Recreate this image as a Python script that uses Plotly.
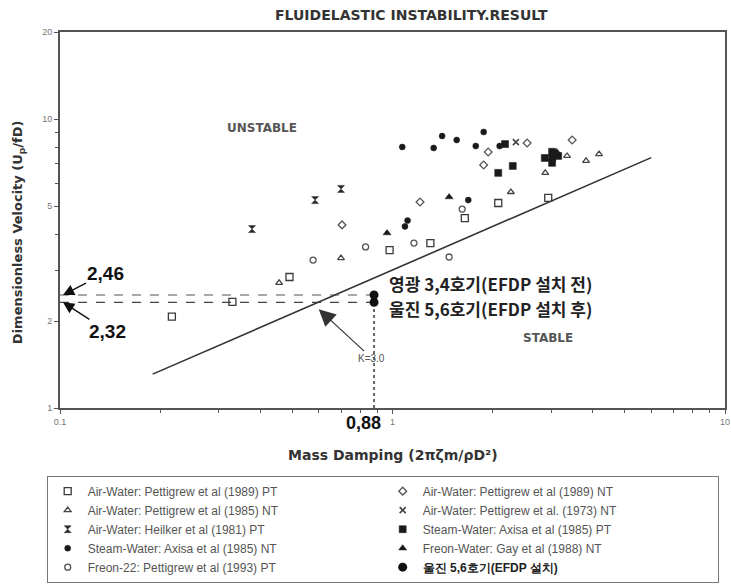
import plotly.graph_objects as go

# ---------------- data ----------------
pt89_x = [0.217, 0.33, 0.49, 0.98, 1.30, 1.65, 2.08, 2.94]
pt89_y = [2.07, 2.33, 2.84, 3.52, 3.72, 4.54, 5.12, 5.33]

nt89_x = [0.705, 1.21, 1.94, 1.88, 2.54, 3.47]
nt89_y = [4.30, 5.16, 7.69, 6.93, 8.26, 8.46]

nt85_x = [0.456, 0.70, 2.27, 2.88, 3.35, 3.82, 4.18]
nt85_y = [2.71, 3.30, 5.59, 6.51, 7.45, 7.16, 7.56]

nt73_x = [2.35]
nt73_y = [8.32]

heilker_x = [0.378, 0.585, 0.70]
heilker_y = [4.16, 5.24, 5.73]

axpt_x = [2.08, 2.30, 2.18, 2.87, 3.02, 3.15, 3.02, 3.02]
axpt_y = [6.51, 6.88, 8.19, 7.33, 7.33, 7.45, 7.70, 7.05]

axnt_x = [1.07, 1.33, 1.41, 1.56, 1.78, 1.88, 1.69, 1.09, 1.11, 2.10]
axnt_y = [8.00, 7.94, 8.73, 8.46, 8.06, 9.02, 5.24, 4.25, 4.45, 8.06]

gay_x = [0.963, 1.48, 3.12]
gay_y = [4.03, 5.37, 7.69]

freon_x = [0.577, 0.83, 1.16, 1.48, 1.62]
freon_y = [3.25, 3.61, 3.72, 3.33, 4.88]

plant_x = [0.88, 0.88]
plant_y = [2.46, 2.32]
plant_names = ["영광 3,4호기(EFDP 설치 전)", "울진 5,6호기(EFDP 설치 후)"]

k_line_x = [0.19, 6.0]
k_line_y = [1.31, 7.35]

x_ticks = [0.1, 1, 10]
x_ticktext = ["0.1", "1", "10"]
y_ticks = [1, 2, 5, 10, 20]
y_ticktext = ["1", "2", "5", "10", "20"]
x_minor = [0.2, 0.3, 0.4, 0.5, 0.6, 0.7, 0.8, 0.9, 2, 3, 4, 5, 6, 7, 8, 9]
y_minor = [3, 4, 6, 7, 8, 9]

legend_names = [
    "Air-Water: Pettigrew et al (1989) PT",
    "Air-Water: Pettigrew et al (1989) NT",
    "Air-Water: Pettigrew et al (1985) NT",
    "Air-Water: Pettigrew et al. (1973) NT",
    "Air-Water: Heilker et al (1981) PT",
    "Steam-Water: Axisa et al (1985) PT",
    "Steam-Water: Axisa et al (1985) NT",
    "Freon-Water: Gay et al (1988) NT",
    "Freon-22: Pettigrew et al (1993) PT",
    "울진 5,6호기(EFDP 설치)",
]

DARK = "#2a2a2a"
WIDE = "DejaVu Sans, Liberation Sans, sans-serif"
fig = go.Figure()

# reference lines
fig.add_trace(go.Scatter(x=[0.1, plant_x[0]], y=[plant_y[0], plant_y[0]], mode="lines",
                         line=dict(color="#a8a8a8", width=2.2, dash="dash"), showlegend=False))
fig.add_trace(go.Scatter(x=[0.1, plant_x[1]], y=[plant_y[1], plant_y[1]], mode="lines",
                         line=dict(color="#444", width=1.3, dash="dash"), showlegend=False))
fig.add_trace(go.Scatter(x=[plant_x[1], plant_x[1]], y=[1, plant_y[1]], mode="lines",
                         line=dict(color="#444", width=1.6, dash="dot"), showlegend=False))
fig.add_trace(go.Scatter(x=k_line_x, y=k_line_y, mode="lines",
                         line=dict(color="#333", width=1.6), showlegend=False))


def add(xs, ys, name, symbol, size=6, lw=1.3, color=DARK):
    fig.add_trace(go.Scatter(
        x=xs, y=ys, mode="markers", name=name,
        marker=dict(symbol=symbol, size=size, color=color,
                    line=dict(color=color, width=lw))))


add(pt89_x, pt89_y, legend_names[0], "square-open", 7, color="#3a3a3a")
add(nt89_x, nt89_y, legend_names[1], "diamond-open", 6, color="#555")
add(nt85_x, nt85_y, legend_names[2], "triangle-up-open", 6, color="#444")
add(nt73_x, nt73_y, legend_names[3], "x-thin-open", 6, lw=1.6, color="#444")
add(heilker_x, heilker_y, legend_names[4], "hourglass", 7, lw=0.5)
add(axpt_x, axpt_y, legend_names[5], "square", 7, lw=0.5, color="#1a1a1a")
add(axnt_x, axnt_y, legend_names[6], "circle", 6, lw=0.5, color="#1a1a1a")
add(gay_x, gay_y, legend_names[7], "triangle-up", 7, lw=0.5, color="#1a1a1a")
add(freon_x, freon_y, legend_names[8], "circle-open", 6, color="#555")

fig.add_trace(go.Scatter(x=[plant_x[0]], y=[plant_y[0]], mode="markers", showlegend=False,
                         marker=dict(symbol="circle", size=9, color="#111")))
fig.add_trace(go.Scatter(x=[plant_x[1]], y=[plant_y[1]], mode="markers",
                         name="<b><span style='font-size:12px;color:#222'>" + legend_names[9] + "</span></b>",
                         marker=dict(symbol="circle", size=9, color="#111")))

ann = [
    dict(text="<b>FLUIDELASTIC INSTABILITY.RESULT</b>", xref="paper", yref="paper",
         x=0.528, y=1.045, yanchor="middle", showarrow=False,
         font=dict(size=14, color="#333", family=WIDE)),
    dict(text="<b>Mass Damping (2πζm/ρD²)</b>", xref="paper", yref="paper",
         x=0.5, y=-0.125, yanchor="middle", showarrow=False,
         font=dict(size=14, color="#333", family=WIDE)),
    dict(text="<b>Dimensionless Velocity (U<sub>p</sub>/fD)</b>", xref="paper", yref="paper",
         x=-0.063, y=0.468, xanchor="center", yanchor="middle", textangle=-90, showarrow=False,
         font=dict(size=13, color="#333", family=WIDE)),
    dict(text="<b>UNSTABLE</b>", xref="x", yref="y", x=-0.3925, y=0.969, yanchor="middle",
         showarrow=False, font=dict(size=12, color="#555", family=WIDE)),
    dict(text="<b>STABLE</b>", xref="x", yref="y", x=0.468, y=0.242, yanchor="middle",
         showarrow=False, font=dict(size=12, color="#555", family=WIDE)),
    dict(text="<b>" + plant_names[0] + "</b>", xref="x", yref="y", x=-0.016, y=0.391,
         xanchor="left", yanchor="middle", yshift=12, showarrow=False,
         font=dict(size=17, color="#222", family="Noto Sans CJK KR")),
    dict(text="<b>" + plant_names[1] + "</b>", xref="x", yref="y", x=-0.016, y=0.3655,
         xanchor="left", yanchor="middle", yshift=-6, showarrow=False,
         font=dict(size=17, color="#222", family="Noto Sans CJK KR")),
    dict(text="<b>2,46</b>", xref="x", yref="y", x=-0.991, y=0.391, ax=43, ay=-22,
         showarrow=True, arrowhead=2, arrowsize=1.6, arrowwidth=1.4, arrowcolor="#111",
         font=dict(size=19, color="#111")),
    dict(text="<b>2,32</b>", xref="x", yref="y", x=-0.991, y=0.3655, ax=45, ay=29,
         showarrow=True, arrowhead=2, arrowsize=1.6, arrowwidth=1.4, arrowcolor="#111",
         font=dict(size=19, color="#111")),
    dict(text="<b>0,88</b>", xref="x", yref="paper", x=-0.0555, y=-0.04, yanchor="middle",
         xshift=-11, showarrow=False, font=dict(size=18, color="#111")),
    dict(text="K=3.0", xref="x", yref="y", x=-0.222, y=0.342, ax=53, ay=49,
         showarrow=True, arrowhead=2, arrowsize=2.8, arrowwidth=1.2, arrowcolor="#333",
         font=dict(size=10, color="#555")),
]

axis_common = dict(type="log", showline=True, linecolor="#555", linewidth=2, mirror=True,
                   showgrid=False, zeroline=False, ticks="outside", ticklen=4, tickcolor="#555",
                   tickfont=dict(size=9, color="#777"), tickmode="array")

fig.update_layout(
    width=731, height=584,
    margin=dict(l=60, r=6, t=32, b=176, autoexpand=False),
    paper_bgcolor="white", plot_bgcolor="white",
    font=dict(family="Liberation Sans, Arial, sans-serif"),
    xaxis=dict(range=[-1, 1], tickvals=x_ticks, ticktext=x_ticktext,
               minor=dict(tickvals=x_minor, ticks="outside", ticklen=3, tickcolor="#555"),
               **axis_common),
    yaxis=dict(range=[0, 1.30103], tickvals=y_ticks, ticktext=y_ticktext,
               minor=dict(tickvals=y_minor, ticks="outside", ticklen=3, tickcolor="#555"),
               **axis_common),
    legend=dict(orientation="h", x=-0.02, xanchor="left", y=-0.18, yanchor="top",
                entrywidth=290, entrywidthmode="pixels", itemwidth=30,
                bgcolor="white", bordercolor="#777", borderwidth=1,
                font=dict(size=12, color="#555"), traceorder="normal"),
    annotations=ann,
)

fig.write_html("out.html")
